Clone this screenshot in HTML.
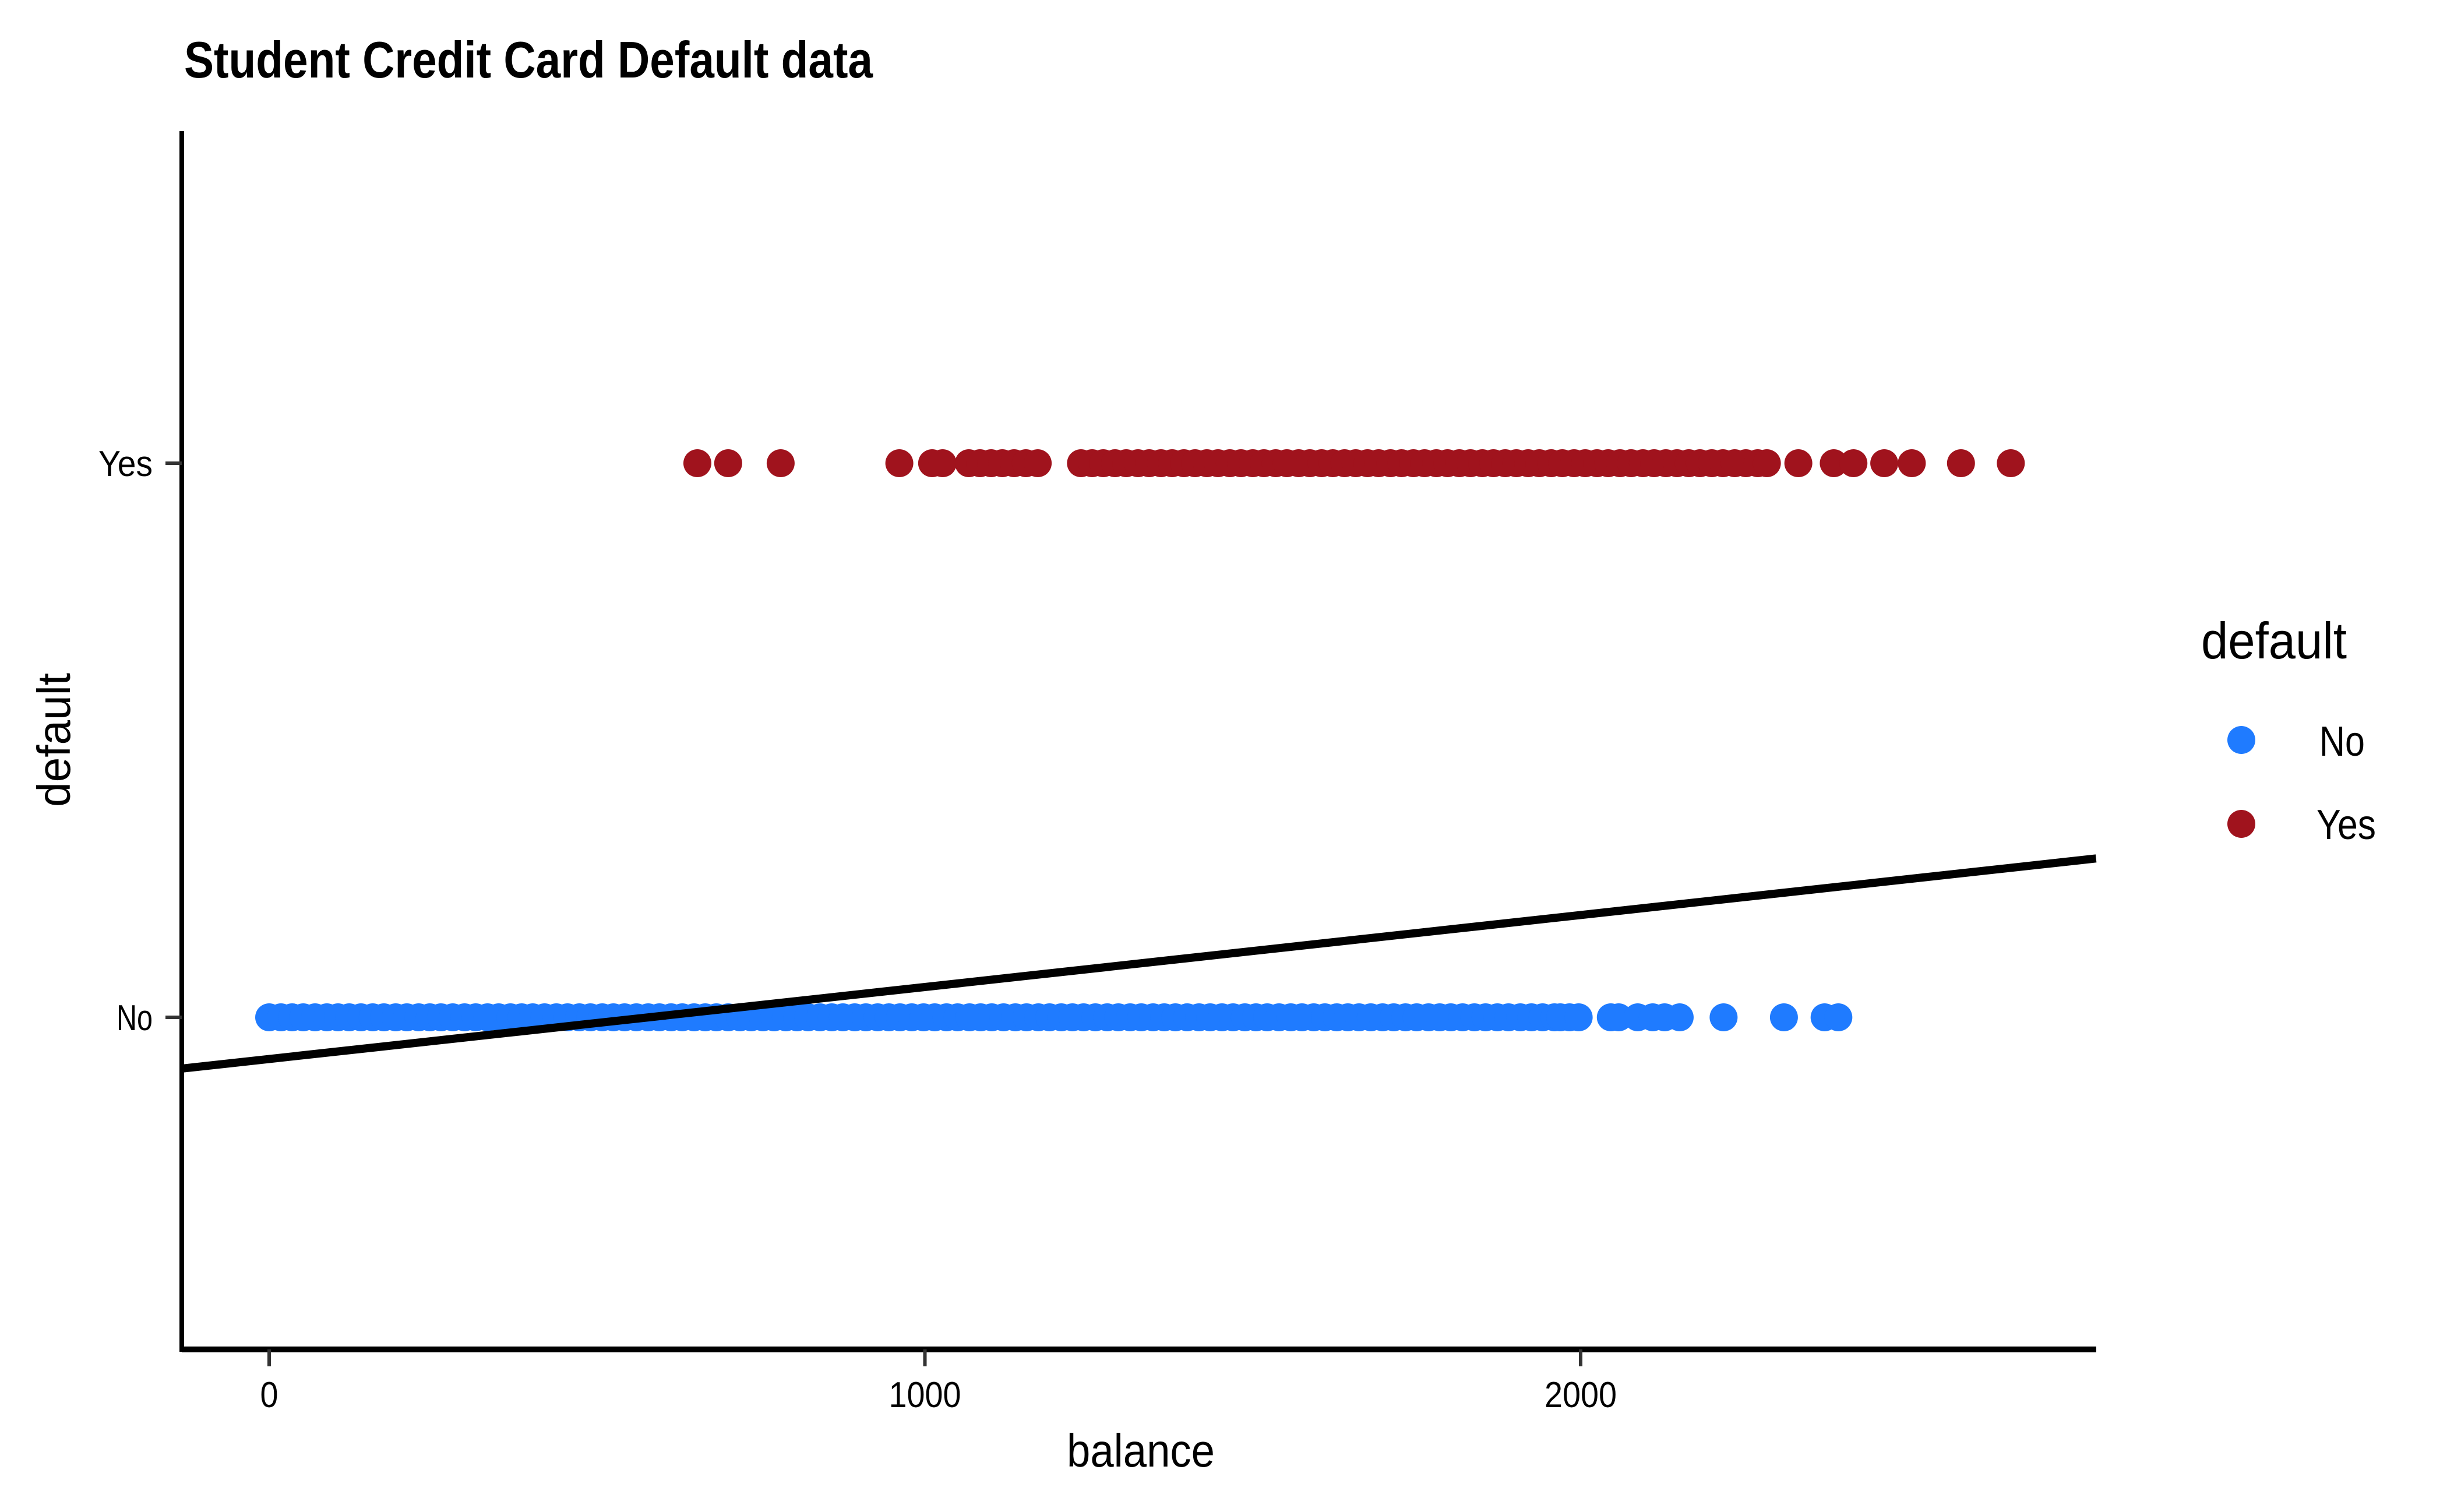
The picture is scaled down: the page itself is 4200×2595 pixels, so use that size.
<!DOCTYPE html>
<html><head><meta charset="utf-8"><style>
html,body{margin:0;padding:0;background:#fff}
svg{display:block}
text{font-family:"Liberation Sans Narrow","Liberation Sans",sans-serif;fill:#000}
</style></head><body>
<svg id="chart" width="4200" height="2595" viewBox="0 0 4200 2595" xmlns="http://www.w3.org/2000/svg">
<text x="316" y="133" font-size="88" font-weight="bold" textLength="1182" lengthAdjust="spacingAndGlyphs">Student Credit Card Default data</text>
<g id="plot"></g>
<line x1="312" y1="225" x2="312" y2="2320" stroke="#000" stroke-width="8"/>
<line x1="312" y1="2316" x2="3598" y2="2316" stroke="#000" stroke-width="10"/>
<g id="xticks"></g>
<g id="yticks"></g>
<text x="1958" y="2517" font-size="80" text-anchor="middle" textLength="254" lengthAdjust="spacingAndGlyphs">balance</text>
<text x="0" y="0" font-size="80" text-anchor="middle" textLength="230" lengthAdjust="spacingAndGlyphs" transform="translate(120,1270) rotate(-90)">default</text>
<g>
<text x="3778" y="1130" font-size="88" textLength="250" lengthAdjust="spacingAndGlyphs">default</text>
<circle cx="3847" cy="1270" r="24" fill="#1f7bff"/>
<text x="3981" y="1297" font-size="72" textLength="78" lengthAdjust="spacingAndGlyphs">No</text>
<circle cx="3847" cy="1414" r="24" fill="#a0131d"/>
<text x="3976" y="1440" font-size="72" textLength="102" lengthAdjust="spacingAndGlyphs">Yes</text>
</g>
</svg>
<script>
const xTicks=[0,1000,2000];
const yCategories=["No","Yes"];
const noBalances=[0,18,35,52,70,88,105,122,140,158,175,193,210,228,245,262,280,298,315,333,350,368,385,402,420,438,455,473,490,508,525,542,560,578,595,613,630,648,665,682,700,718,735,753,770,788,805,822,840,858,875,893,910,928,945,962,980,998,1015,1033,1050,1068,1085,1102,1120,1138,1155,1173,1190,1208,1225,1242,1260,1278,1295,1313,1330,1348,1365,1382,1400,1418,1435,1453,1470,1488,1505,1522,1540,1558,1575,1593,1610,1628,1645,1662,1680,1698,1715,1733,1750,1768,1785,1802,1820,1838,1855,1873,1890,1908,1925,1942,1960,1969,1983,1997,2046,2058,2087,2110,2128,2151,2218,2310,2372,2393];
const yesBalances=[653,700,780,961,1011,1027,1067,1084,1101,1118,1136,1154,1172,1238,1255,1272,1290,1307,1325,1342,1360,1377,1395,1412,1430,1447,1465,1482,1500,1517,1535,1552,1570,1587,1605,1622,1640,1657,1675,1692,1710,1727,1745,1762,1780,1797,1815,1832,1850,1867,1885,1902,1920,1937,1955,1972,1990,2007,2025,2042,2060,2077,2095,2112,2130,2147,2165,2182,2200,2217,2235,2252,2270,2284,2332,2386,2416,2463,2505,2580,2656];
const fitIntercept=-0.0752;
const fitSlope=0.0001299;
const xDomain=[-134,2786];

const NS="http://www.w3.org/2000/svg";
function xs(v){return 462+v*1.1255;}
function ys(v){return 1746-v*951;}
const plot=document.getElementById('plot');
function dot(b,cat,color,name){
  const c=document.createElementNS(NS,'circle');
  c.setAttribute('cx',xs(b));c.setAttribute('cy',ys(cat));c.setAttribute('r',24);c.setAttribute('fill',color);
  
  
  plot.appendChild(c);
}
noBalances.forEach(b=>dot(b,0,'#1f7bff','point-no'));
yesBalances.forEach(b=>dot(b,1,'#a0131d','point-yes'));
const ln=document.createElementNS(NS,'line');
ln.setAttribute('x1',xs(xDomain[0]));ln.setAttribute('y1',ys(fitIntercept+fitSlope*xDomain[0]));
ln.setAttribute('x2',xs(xDomain[1]));ln.setAttribute('y2',ys(fitIntercept+fitSlope*xDomain[1]));
ln.setAttribute('stroke','#000');ln.setAttribute('stroke-width','14');


plot.appendChild(ln);
const xt=document.getElementById('xticks');
xTicks.forEach(t=>{
  const l=document.createElementNS(NS,'line');
  l.setAttribute('x1',xs(t));l.setAttribute('x2',xs(t));l.setAttribute('y1',2316);l.setAttribute('y2',2345);
  l.setAttribute('stroke','#333');l.setAttribute('stroke-width','6');
  
  
  xt.appendChild(l);
  const tx=document.createElementNS(NS,'text');
  tx.setAttribute('x',xs(t));tx.setAttribute('y',2415);tx.setAttribute('font-size','62');tx.setAttribute('text-anchor','middle');
  tx.setAttribute('textLength',String(t).length*31);tx.setAttribute('lengthAdjust','spacingAndGlyphs');
  tx.textContent=t;
  
  
  xt.appendChild(tx);
});
const yt=document.getElementById('yticks');
yCategories.forEach((c,i)=>{
  const l=document.createElementNS(NS,'line');
  l.setAttribute('x1',284);l.setAttribute('x2',312);l.setAttribute('y1',ys(i));l.setAttribute('y2',ys(i));
  l.setAttribute('stroke','#333');l.setAttribute('stroke-width','6');
  
  
  yt.appendChild(l);
  const tx=document.createElementNS(NS,'text');
  tx.setAttribute('x',262);tx.setAttribute('y',ys(i)+22);tx.setAttribute('font-size','62');tx.setAttribute('text-anchor','end');
  tx.setAttribute('textLength',c.length*31);tx.setAttribute('lengthAdjust','spacingAndGlyphs');
  tx.textContent=c;
  
  
  yt.appendChild(tx);
});
</script>
</body></html>
